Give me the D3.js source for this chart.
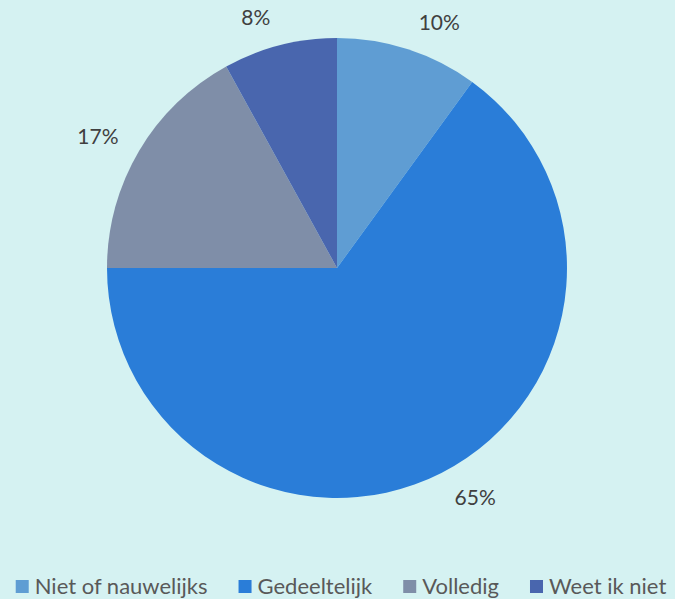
<!DOCTYPE html>
<html lang="nl">
    <head>
        <meta charset="utf-8">
        <title>Pie</title>
        <script type="text/javascript" src="https://d3js.org/d3.v7.min.js"></script>
        <style type="text/css">
          body { margin: 0; background: #d5f2f2; }
          svg { display: block; font-family: Lato, "Open Sans", sans-serif; }
          .lbl { fill: #404040; font-size: 21px; }
          .leg { fill: #595959; font-size: 22px; }
        </style>
    </head>
    <body>
        <svg width="675" height="599"></svg>
        <script type="text/javascript">
            const categories = ["Niet of nauwelijks", "Gedeeltelijk", "Volledig", "Weet ik niet"];
            const values = [10, 65, 17, 8];
            const colors = ["#5f9dd3", "#2a7dd8", "#7f8ea8", "#4966ae"];

            const svg = d3.select("svg");
            const cx = 337, cy = 268, r = 230;

            const pie = d3.pie().sort(null).value(d => d.v);
            const arcs = pie(categories.map((c, i) => ({c: c, v: values[i]})));
            const arc = d3.arc().innerRadius(0).outerRadius(r);

            const g = svg.append("g").attr("transform", `translate(${cx},${cy})`);
            g.selectAll("path")
             .data(arcs)
             .enter()
             .append("path")
             .attr("d", arc)
             .attr("fill", (d, i) => colors[i]);

            //labels outside end, box sits next to a point just beyond the rim
            const lr = r + 18;
            g.selectAll("text")
             .data(arcs)
             .enter()
             .append("text")
             .attr("class", "lbl")
             .text(d => d.data.v + "%")
             .each(function(d) {
                const a = (d.startAngle + d.endAngle) / 2;
                const s = Math.sin(a), c = Math.cos(a);
                const w = this.getComputedTextLength();
                const x = lr * s + (s >= 0 ? 1 : -1) * (w / 2 + 5);
                const y = -lr * c - c * 10;
                d3.select(this).attr("x", x).attr("y", y + 7).attr("text-anchor", "middle");
             });

            //legend
            const gap = 31;
            const leg = svg.append("g");
            let x = 0;
            categories.forEach((c, i) => {
                const it = leg.append("g").attr("transform", `translate(${x},0)`);
                it.append("rect").attr("x", 0).attr("y", 580).attr("width", 13).attr("height", 13)
                  .attr("fill", colors[i]);
                const t = it.append("text").attr("class", "leg").attr("x", 19).attr("y", 594).text(c);
                x += 19 + t.node().getComputedTextLength() + gap;
            });
            const total = x - gap;
            leg.attr("transform", `translate(${341 - total / 2},0)`);
        </script>
    </body>
</html>
